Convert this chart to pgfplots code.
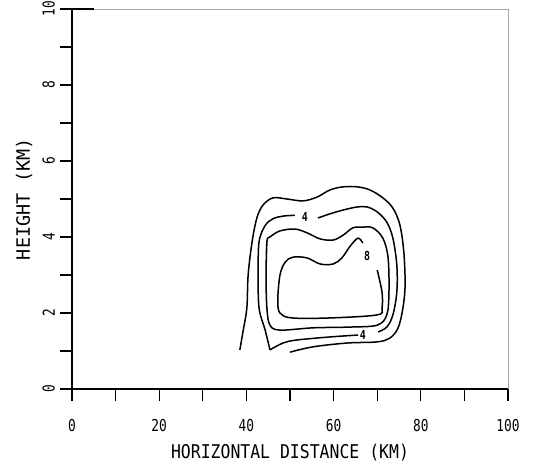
\documentclass[border=0pt]{standalone}
\usepackage{fontspec}
\setmainfont{DejaVu Sans Mono}
\newfontfamily\tickfont{DejaVu Sans Mono}[FakeStretch=0.78]
\newfontfamily\xlabfont{DejaVu Sans Mono}[FakeStretch=0.87]
\newfontfamily\ylabfont{DejaVu Sans Mono}
\newfontfamily\clabfont{DejaVu Sans Mono}[FakeStretch=0.8]
\usepackage{pgfplots}
\pgfplotsset{compat=1.18}
\begin{document}
\begin{tikzpicture}
\begin{axis}[
  at={(0,0)}, anchor=south west,
  width=436bp, height=380bp, scale only axis,
  xmin=0, xmax=100, ymin=0, ymax=10,
  axis lines=left, axis line style={-, line width=1.2bp, black},
  xtick={0,20,40,60,80,100}, ytick={0,2,4,6,8,10},
  minor x tick num=1, minor y tick num=1,
  tick align=outside,
  major tick length=12bp, minor tick length=12bp,
  tick style={line width=1.1bp, black},
  /pgf/number format/assume math mode=true,
  xticklabel style={font=\tickfont\fontsize{16.5}{16.5}\selectfont, anchor=north, inner sep=0pt, yshift=-18bp},
  yticklabel style={font=\tickfont\fontsize{16.5}{16.5}\selectfont, rotate=90, anchor=south, inner sep=0pt, yshift=5bp},
  xlabel={HORIZONTAL DISTANCE (KM)},
  ylabel={HEIGHT (KM)},
  xlabel style={font=\xlabfont\fontsize{19}{19}\selectfont, at={(axis description cs:0.5,-0.168)}, anchor=center},
  ylabel style={font=\ylabfont\fontsize{18.5}{18.5}\selectfont, at={(axis description cs:-0.110,0.5)}, anchor=center},
  clip=false,
]
% faint frame top and right
\draw[black!35, line width=0.6bp] (rel axis cs:0,1) -- (rel axis cs:1,1) -- (rel axis cs:1,0);
\draw[black, line width=1.1bp] (rel axis cs:-0.025,1) -- (rel axis cs:0.05,1);
% outer contour
\addplot[black, line width=1.5bp, smooth, tension=0.55] coordinates {
(38.5,1.03) (39.2,1.50) (40.1,2.13) (40.4,3.00) (41.3,3.87) (42.4,4.50) (43.8,4.84)
(46.1,5.03) (49.3,5.00) (53.0,4.95) (56.2,5.05) (59.2,5.24) (62.2,5.32) (65.4,5.32)
(68.3,5.24) (71.3,5.03) (73.6,4.76) (75.2,4.32) (76.1,3.61) (76.4,2.74) (75.9,2.13)
(74.8,1.61) (72.9,1.34) (70.0,1.24) (63.1,1.21) (55.3,1.11) (50.0,0.97)
};
% contour 4 (three pieces)
\addplot[black, line width=1.5bp, smooth, tension=0.55] coordinates {
(45.4,1.03) (44.3,1.55) (42.9,2.13) (42.7,3.00) (42.9,3.87) (44.3,4.30) (46.1,4.48)
(48.4,4.55) (51.1,4.57)
};
\addplot[black, line width=1.5bp, smooth, tension=0.55] coordinates {
(56.4,4.50) (59.2,4.61) (62.2,4.71) (65.4,4.79) (67.7,4.79) (70.0,4.66) (72.2,4.39)
(73.6,3.97) (74.5,3.26) (74.5,2.55) (73.6,1.95) (72.2,1.63) (70.2,1.50)
};
\addplot[black, line width=1.5bp, smooth, tension=0.55] coordinates {
(65.6,1.42) (59.2,1.37) (51.6,1.29) (48.4,1.21) (45.4,1.03)
};
% contour 6 (closed)
\addplot[black, line width=1.5bp, smooth, tension=0.55] coordinates {
(44.7,3.87) (44.5,3.00) (44.7,2.13) (45.4,1.68) (47.7,1.55) (55.3,1.61) (63.8,1.63)
(70.0,1.68) (72.2,1.95) (72.7,2.55) (72.5,3.45) (71.3,3.97) (69.0,4.24) (66.7,4.26)
(64.4,4.24) (62.2,4.05) (59.9,3.92) (56.9,3.95) (53.9,4.11) (51.1,4.21) (47.7,4.16)
(45.4,4.00) (44.7,3.87) (44.5,3.00)
};
% contour 8
\addplot[black, line width=1.5bp, smooth, tension=0.55] coordinates {
(70.0,3.13) (71.1,2.55) (71.1,2.13) (70.0,1.95) (59.2,1.87) (50.5,1.87) (47.7,2.00)
(47.2,2.34) (47.7,3.00) (48.9,3.34) (50.7,3.47) (53.9,3.45) (56.9,3.29) (59.9,3.29)
(61.9,3.45) (63.8,3.76) (65.6,3.97) (66.7,3.84)
};
% contour labels
\addplot[draw=none, mark=none, point meta=explicit symbolic,
  nodes near coords={\clabfont\bfseries\fontsize{12.5}{12.5}\selectfont\pgfplotspointmeta},
  nodes near coords align=center] coordinates {
(53.4,4.53) [4] (66.7,1.42) [4] (67.7,3.50) [8]
};
\end{axis}
\pgfresetboundingbox
\path (-72bp,-80bp) rectangle (462bp,389bp);
\end{tikzpicture}
\end{document}
